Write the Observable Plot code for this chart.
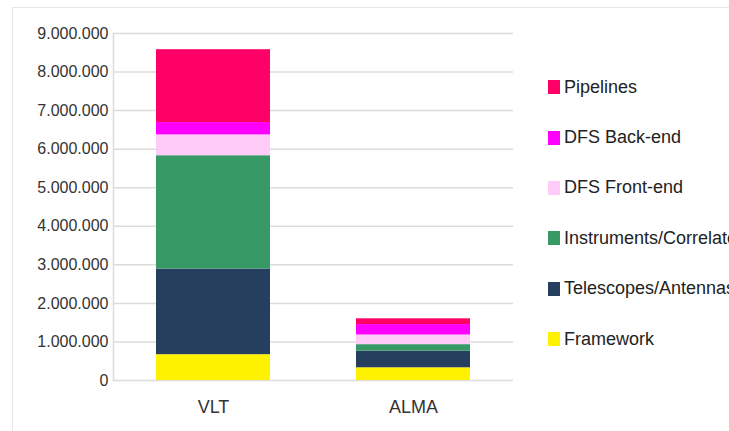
<!DOCTYPE html>
<html>
<head>
<meta charset="utf-8">
<script src="https://cdn.jsdelivr.net/npm/d3@7"></script>
<script src="https://cdn.jsdelivr.net/npm/@observablehq/plot@0.6"></script>
<style>
  html, body { margin: 0; padding: 0; background: #fff; overflow: hidden; }
  #wrap { position: relative; width: 729px; height: 431px; overflow: hidden; font-family: "Liberation Sans", Arial, sans-serif; }
  #frame { position: absolute; left: 12px; top: 7px; width: 730px; height: 440px; border: 1px solid #e6e6e6; box-sizing: border-box; }
  #legend { position: absolute; left: 548px; top: 62px; width: 181px; overflow: hidden; }
  .item { display: flex; align-items: center; height: 50.4px; white-space: nowrap; font-size: 18px; color: #222; }
  .sw { width: 12px; height: 14px; margin-right: 4px; flex: none; }
  svg { position: absolute; left: 0; top: 0; }
</style>
</head>
<body>
<div id="wrap"><div id="frame"></div><div id="legend"></div></div>
<script>
const projects = ["VLT", "ALMA"];
const seriesNames = ["Framework", "Telescopes/Antennas", "Instruments/Correlators", "DFS Front-end", "DFS Back-end", "Pipelines"];
const seriesColors = ["#fff200", "#263f5f", "#369966", "#ffccf8", "#ff00ff", "#ff0066"];
const vltValues  = [670000, 2220000, 2940000, 540000, 320000, 1890000];
const almaValues = [330000, 430000, 170000, 250000, 270000, 150000];
const yTicks = [0, 1000000, 2000000, 3000000, 4000000, 5000000, 6000000, 7000000, 8000000, 9000000];

const data = [];
seriesNames.forEach((s, i) => {
  data.push({project: "VLT", series: s, value: vltValues[i]});
  data.push({project: "ALMA", series: s, value: almaValues[i]});
});

const locale = d3.formatLocale({decimal: ",", thousands: ".", grouping: [3], currency: ["", "€"]});
const fmt = locale.format(",d");

const chart = Plot.plot({
  width: 729,
  height: 431,
  marginLeft: 113,
  marginRight: 216,
  marginTop: 33,
  marginBottom: 51,
  style: {fontFamily: "'Liberation Sans', Arial, sans-serif", background: "transparent", overflow: "visible"},
  x: {domain: projects, paddingInner: 0.43, paddingOuter: 0.215, label: null},
  y: {domain: [0, 9000000], label: null},
  color: {domain: seriesNames, range: seriesColors},
  marks: [
    Plot.gridY(yTicks, {stroke: "#dcdcdc", strokeOpacity: 1, strokeWidth: 1.5}),
    Plot.frame({anchor: "left", stroke: "#dcdcdc", strokeWidth: 1.5}),
    Plot.barY(data, {x: "project", y: "value", fill: "series", order: seriesNames}),
    Plot.axisY(yTicks, {tickSize: 0, tickPadding: 5, tickFormat: fmt, fontSize: 16, fill: "#333", label: null}),
    Plot.axisX({tickSize: 0, tickPadding: 20, fontSize: 18, fill: "#333", label: null})
  ]
});
document.getElementById("wrap").appendChild(chart);

const legend = document.getElementById("legend");
seriesNames.slice().reverse().forEach((s) => {
  const i = seriesNames.indexOf(s);
  const it = document.createElement("div");
  it.className = "item";
  const sw = document.createElement("span");
  sw.className = "sw";
  sw.style.background = seriesColors[i];
  const tx = document.createElement("span");
  tx.textContent = s;
  it.appendChild(sw); it.appendChild(tx);
  legend.appendChild(it);
});
</script>
</body>
</html>
